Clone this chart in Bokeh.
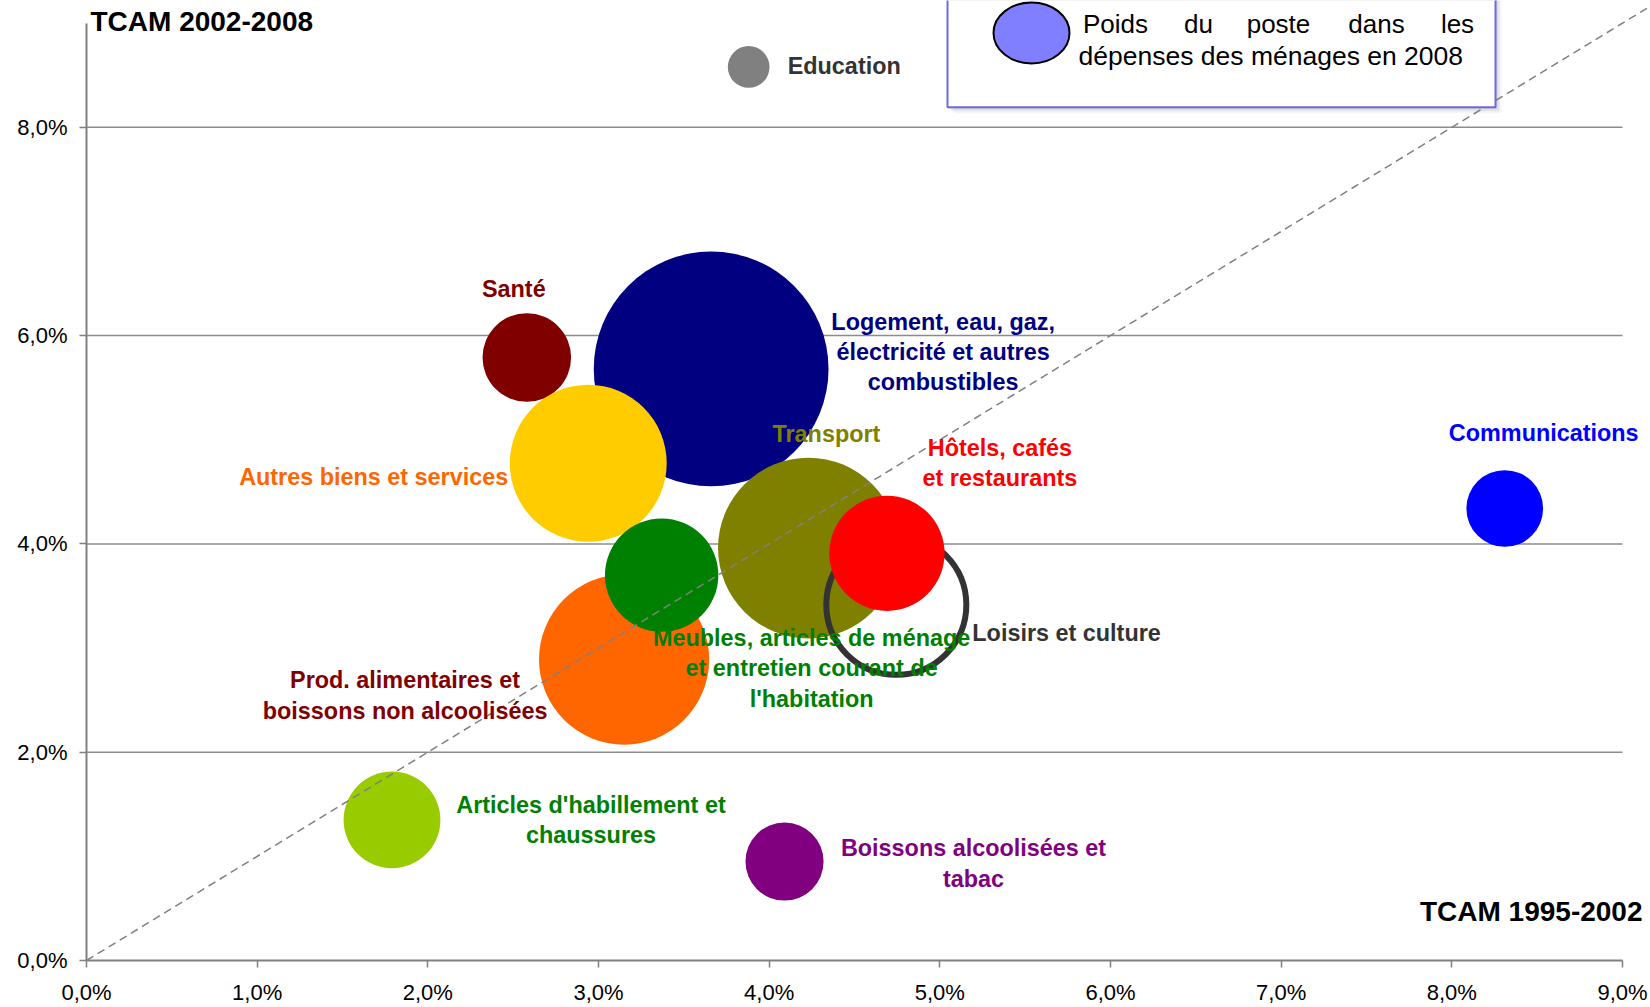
import math
from bokeh.plotting import figure
from bokeh.models import Label, FixedTicker, Range1d, ColumnDataSource
from bokeh.embed import file_html
from bokeh.resources import INLINE

# ---------------- data ----------------
postes = ["Education", "Santé", "Logement", "Autres biens et services",
          "Prod. alimentaires", "Meubles", "Transport", "Loisirs et culture",
          "Hôtels", "Habillement", "Boissons", "Communications"]
etiquettes = ["Education", "Santé",
              "Logement, eau, gaz,\nélectricité et autres\ncombustibles",
              "Autres biens et services",
              "Prod. alimentaires et\nboissons non alcoolisées",
              "Meubles, articles de ménage\net entretien courant de\nl'habitation",
              "Transport", "Loisirs et culture",
              "Hôtels, cafés\net restaurants",
              "Articles d'habillement et\nchaussures",
              "Boissons alcoolisées et\ntabac", "Communications"]
tcam_1995_2002 = [3.88, 2.58, 3.66, 2.94, 3.15, 3.37, 4.23, 4.745, 4.69, 1.79, 4.09, 8.31]
tcam_2002_2008 = [8.58, 5.79, 5.68, 4.775, 2.89, 3.70, 3.96, 3.415, 3.91, 1.35, 0.95, 4.34]
poids_2008 = [0.8, 3.6, 25.3, 11.3, 13.3, 5.9, 15.0, 9.0, 6.1, 4.3, 2.8, 2.7]
bissectrice = [0, 9.5]

x_ticks = [0, 1, 2, 3, 4, 5, 6, 7, 8, 9]
x_tick_labels = ["0,0%", "1,0%", "2,0%", "3,0%", "4,0%", "5,0%", "6,0%", "7,0%", "8,0%", "9,0%"]
y_ticks = [0, 2, 4, 6, 8]
y_tick_labels = ["0,0%", "2,0%", "4,0%", "6,0%", "8,0%"]
axis_max = 9

# ---------------- styles ----------------
fill_colors = ["#808080", "#800000", "#000080", "#FFCC00", "#FF6600", "#008000",
               "#808000", "#FFFFFF", "#FF0000", "#99CC00", "#800080", "#0000FF"]
fill_alpha = [1, 1, 1, 1, 1, 1, 1, 0, 1, 1, 1, 1]
line_alpha = [0, 0, 0, 0, 0, 0, 0, 1, 0, 0, 0, 0]
label_colors = ["#333333", "#800000", "#000080", "#FF6600", "#800000", "#008000",
                "#808000", "#333333", "#FF0000", "#008000", "#800080", "#0000FF"]
label_align = ["left", "center", "center", "right", "center", "center",
               "center", "left", "center", "center", "center", "center"]
# label offsets in pixels (dx right, dy down) from bubble centre
label_dx = [39, -13, 232, -80, -219, 150, 18, 76, 113, 199, 189, 39]
label_dy = [-1, -68, -17, 14, 36, 93, -114, 28, -90, 0, 2, -75]

FONT = "Liberation Sans"
W, H = 1650, 1007
BL, BT, BB = 86, 0, 45
FW = W - BL          # frame runs to the right edge of the canvas
FH = H - BT - BB
PXX = 1536 / 9.0     # px per 1 % on x
PXY = (FH - 22.7) / 9.0  # px per 1 % on y
XEND = FW / PXX
YEND = FH / PXY
SIZE_K = 46.68       # bubble diameter (px) per sqrt(weight)

PAGE_X0 = BL
PAGE_Y0 = BT + FH


def dx(px):
    return (px - PAGE_X0) / PXX


def dy(py):
    return (PAGE_Y0 - py) / PXY


p = figure(width=W, height=H, output_backend="svg", toolbar_location=None,
           x_range=Range1d(0, XEND), y_range=Range1d(0, YEND),
           min_border_left=BL, min_border_right=0, min_border_top=BT,
           min_border_bottom=BB)
p.outline_line_color = None
p.background_fill_color = "white"
p.border_fill_color = "white"

# axes
for ax, ticks, labs in ((p.xaxis, x_ticks, x_tick_labels), (p.yaxis, y_ticks, y_tick_labels)):
    ax.ticker = FixedTicker(ticks=ticks)
    ax.major_label_overrides = {t: l for t, l in zip(ticks, labs)}
    ax.bounds = (0, axis_max)
    ax.axis_line_color = "#808080"
    ax.axis_line_width = 2
    ax.major_tick_line_color = "#808080"
    ax.major_tick_line_width = 1.5
    ax.major_tick_in = 0
    ax.major_tick_out = 7
    ax.minor_tick_line_color = None
    ax.major_label_text_font = FONT
    ax.major_label_text_font_size = "22px"
    ax.major_label_text_color = "black"
p.xaxis.major_label_standoff = 12
p.yaxis.major_label_standoff = 12

p.xgrid.visible = False
p.ygrid.visible = False
grid_y = [t for t in y_ticks if t > 0]
p.segment(x0=[0] * len(grid_y), x1=[axis_max] * len(grid_y), y0=grid_y, y1=grid_y,
          line_color="#8C8C8C", line_width=1.5)

# bubbles
src = ColumnDataSource(dict(
    x=tcam_1995_2002, y=tcam_2002_2008,
    size=[SIZE_K * math.sqrt(w) for w in poids_2008],
    fc=fill_colors, fa=fill_alpha, la=line_alpha,
))
p.scatter("x", "y", size="size", source=src, fill_color="fc", fill_alpha="fa",
          line_color="#333333", line_alpha="la", line_width=6)

# diagonal
p.line(bissectrice, bissectrice, line_color="#808080", line_width=1.5, line_dash="8 5")

# labels
for i, txt in enumerate(etiquettes):
    p.add_layout(Label(x=tcam_1995_2002[i], y=tcam_2002_2008[i], text=txt,
                       x_offset=label_dx[i], y_offset=-label_dy[i],
                       text_align=label_align[i], text_baseline="middle",
                       text_font=FONT, text_font_style="bold", text_font_size="23.4px",
                       text_color=label_colors[i], text_line_height=1.17))

# axis titles
p.add_layout(Label(x=dx(90), y=dy(21), text="TCAM 2002-2008", text_align="left",
                   text_baseline="middle", text_font=FONT, text_font_style="bold",
                   text_font_size="28px", text_color="black"))
p.add_layout(Label(x=dx(1642), y=dy(913), text="TCAM 1995-2002", text_align="right",
                   text_baseline="middle", text_font=FONT, text_font_style="bold",
                   text_font_size="28px", text_color="black"))

# legend box with shadow
BOX_L, BOX_R, BOX_B = 947, 1495, 107
for off, a in ((6, 0.06), (4, 0.10), (2, 0.14)):
    p.quad(left=dx(BOX_L + off), right=dx(BOX_R + off), top=dy(-20), bottom=dy(BOX_B + off),
           fill_color="#555555", fill_alpha=a, line_color=None)
p.quad(left=dx(BOX_L), right=dx(BOX_R), top=dy(-20), bottom=dy(BOX_B),
       fill_color="white", line_color="#6B6BE0", line_width=2)
p.ellipse(x=dx(1031), y=dy(32.5), width=76, height=61, width_units="screen",
          height_units="screen", fill_color="#7F7FFF", line_color="black", line_width=2)
for word, cx in (("Poids", 1115), ("du", 1198), ("poste", 1278), ("dans", 1376), ("les", 1457)):
    p.add_layout(Label(x=dx(cx), y=dy(24), text=word, text_align="center",
                       text_baseline="middle", text_font=FONT, text_font_size="26px",
                       text_color="black"))
p.add_layout(Label(x=dx(1078), y=dy(56), text="dépenses des ménages en 2008",
                   text_align="left", text_baseline="middle", text_font=FONT,
                   text_font_size="26.5px", text_color="black"))

open("out.html", "w").write(file_html(p, INLINE))
